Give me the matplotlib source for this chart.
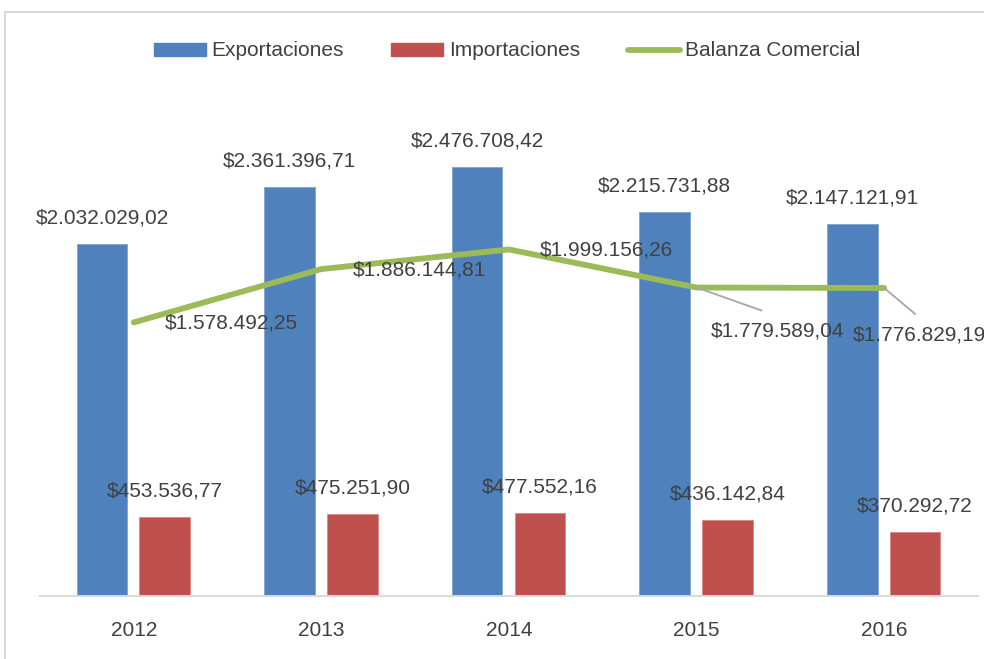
import matplotlib
matplotlib.use("Agg")
import matplotlib.pyplot as plt
from matplotlib.patches import Patch
from matplotlib.lines import Line2D
import numpy as np

plt.rcParams['font.family'] = ['Liberation Sans', 'DejaVu Sans']

years = ["2012", "2013", "2014", "2015", "2016"]
exportaciones = [2032029.02, 2361396.71, 2476708.42, 2215731.88, 2147121.91]
importaciones = [453536.77, 475251.90, 477552.16, 436142.84, 370292.72]
balanza = [1578492.25, 1886144.81, 1999156.26, 1779589.04, 1776829.19]

def fmt(v):
    s = f"{v:,.2f}"
    s = s.replace(",", "X").replace(".", ",").replace("X", ".")
    return "$" + s

BLUE = "#4F81BD"
RED = "#C0504D"
GREEN = "#9BBB59"
TXT = "#404040"
FS = 15

W, H = 984, 659
fig = plt.figure(figsize=(W / 100, H / 100), dpi=100)
ax = fig.add_axes([40 / W, 63 / H, 938 / W, 520 / H])

x = np.arange(len(years))
bw = 0.27
ax.bar(x - 0.17, exportaciones, width=bw, color=BLUE, edgecolor="#7FA3D0", linewidth=0.6, zorder=2)
ax.bar(x + 0.165, importaciones, width=bw, color=RED, edgecolor="#D98886", linewidth=0.6, zorder=2)
ax.plot(x, balanza, color=GREEN, linewidth=4.2, solid_capstyle="round", zorder=3)

ax.set_xlim(-0.5, len(years) - 0.5)
ax.set_ylim(0, 3000000)
ax.set_yticks([])
ax.set_xticks(x)
ax.set_xticklabels(years, fontsize=FS, color=TXT)
ax.tick_params(axis="x", length=0, pad=18)
for s in ["left", "right", "top"]:
    ax.spines[s].set_visible(False)
ax.spines["bottom"].set_color("#D9D9D9")
ax.spines["bottom"].set_linewidth(1.4)

for i, v in enumerate(exportaciones):
    ax.annotate(fmt(v), (x[i] - 0.17, v), xytext=(0, 26), textcoords="offset pixels",
                ha="center", va="center", fontsize=FS, color=TXT, zorder=5)
for i, v in enumerate(importaciones):
    ax.annotate(fmt(v), (x[i] + 0.165, v), xytext=(0, 26), textcoords="offset pixels",
                ha="center", va="center", fontsize=FS, color=TXT, zorder=5)

line_offsets = [(98, -1), (98, -1), (97, -1), (81, -43), (35, -47)]
leaders = [None, None, None, (65, -23), (31, -26)]
for i, v in enumerate(balanza):
    dx, dy = line_offsets[i]
    ax.annotate(fmt(v), (x[i], v), xytext=(dx, dy), textcoords="offset pixels",
                ha="center", va="center", fontsize=FS, color=TXT, zorder=5,
                annotation_clip=False)
    if leaders[i] is not None:
        lx, ly = leaders[i]
        ax.annotate("", (x[i], v), xytext=(lx, ly), textcoords="offset pixels",
                    arrowprops=dict(arrowstyle="-", color="#A6A6A6", lw=1.3,
                                    shrinkA=0, shrinkB=0), zorder=4)

handles = [Patch(facecolor=BLUE, edgecolor=BLUE),
           Patch(facecolor=RED, edgecolor=RED),
           Line2D([0], [0], color=GREEN, lw=4.2, solid_capstyle="round")]
labels = ["Exportaciones", "Importaciones", "Balanza Comercial"]
leg = fig.legend(handles, labels, loc="center", bbox_to_anchor=(507 / W, 1 - 51 / H),
                 ncol=3, frameon=False, fontsize=FS, handlelength=2.5, handleheight=0.6,
                 handletextpad=0.25, columnspacing=2.3, labelcolor=TXT)

# figure border (left and top visible)
fig.add_artist(Line2D([5 / W, 5 / W], [0, 1 - 12 / H], transform=fig.transFigure,
                      color="#D9D9D9", lw=1.5))
fig.add_artist(Line2D([5 / W, 1], [1 - 12 / H, 1 - 12 / H], transform=fig.transFigure,
                      color="#D9D9D9", lw=1.5))

fig.savefig("out.png", dpi=100, facecolor="white")
